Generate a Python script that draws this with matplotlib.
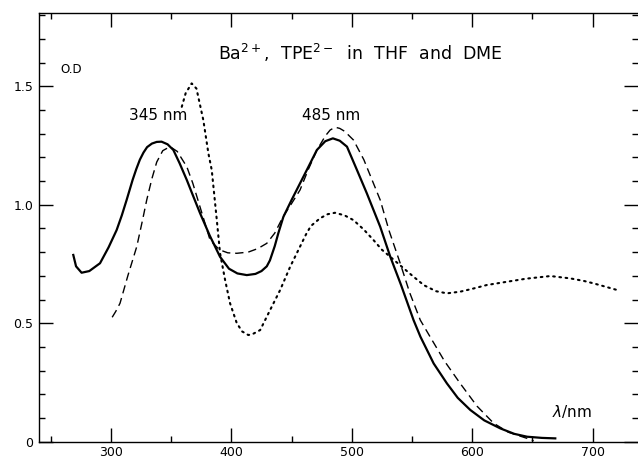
import matplotlib
matplotlib.use('Agg')
import matplotlib.pyplot as plt
import matplotlib.ticker as mticker
import numpy as np

plt.rcParams.update({
    'font.family': 'DejaVu Sans',
    'font.size': 9,
})

# ── curves (wavelength nm, O.D) ──
solid_wl = [268.7, 271, 275.6, 282, 290.9, 298, 304.7, 309, 313, 318, 321, 324, 327,
            330, 334, 338, 342, 347, 351.8, 357, 363, 368, 374, 382, 390.6, 398, 405,
            412.8, 420, 425, 429.4, 432, 436, 439, 443.2, 450, 457, 464, 471, 478,
            484.3, 490, 496, 504, 512.5, 523.6, 532, 541, 551.3, 557, 568, 579, 588,
            598.4, 610, 623.4, 635, 645.6, 658, 669]
solid_od = [0.788, 0.74, 0.713, 0.72, 0.753, 0.82, 0.893, 0.955, 1.02, 1.105, 1.15, 1.19, 1.22,
            1.243, 1.258, 1.265, 1.266, 1.255, 1.231, 1.175, 1.104, 1.04, 0.964, 0.87, 0.78, 0.73, 0.71,
            0.703, 0.708, 0.72, 0.74, 0.765, 0.825, 0.88, 0.949, 1.02, 1.09, 1.16, 1.231, 1.268,
            1.28, 1.27, 1.245, 1.15, 1.048, 0.907, 0.78, 0.66, 0.513, 0.443, 0.33, 0.246, 0.185,
            0.134, 0.09, 0.056, 0.033, 0.021, 0.016, 0.014]

dash_wl = [301, 304, 307.5, 314, 321.4, 326, 329.7, 334, 338, 343, 349, 355, 363, 368,
           374, 382.3, 390, 397, 404.5, 414, 422, 429.4, 436, 443, 450, 457, 464,
           471, 478, 482, 486.2, 490, 494, 501.4, 510, 518, 523.6, 531, 540.2, 548, 556.9,
           565, 577, 590, 604, 617.8, 630, 645.6, 651]
dash_od = [0.525, 0.55, 0.584, 0.70, 0.823, 0.93, 1.02, 1.11, 1.18, 1.228, 1.245, 1.225, 1.16, 1.09,
           0.99, 0.851, 0.81, 0.797, 0.795, 0.80, 0.815, 0.837, 0.88, 0.95, 1.005, 1.062, 1.15,
           1.23, 1.29, 1.315, 1.327, 1.322, 1.31, 1.273, 1.19, 1.09, 1.02, 0.89, 0.753, 0.63, 0.513,
           0.443, 0.34, 0.246, 0.15, 0.078, 0.04, 0.014, 0.004]

dot_wl = [358.8, 362, 367, 371, 376.7, 380.9, 383.7, 387.9, 390.6, 394.8, 398.9, 404.5,
          409, 414.1, 418, 423.9, 432.2, 440.5, 448.8, 457, 462, 466, 473.7, 480, 486,
          494, 501.4, 510, 518, 525, 532, 540, 551.3, 560, 570, 579, 590, 600, 612,
          629, 645, 665, 681.6, 693, 700.9, 710, 720.4]
dot_od = [1.413, 1.47, 1.512, 1.49, 1.357, 1.217, 1.146, 0.935, 0.795, 0.682, 0.584, 0.50,
          0.465, 0.45, 0.455, 0.471, 0.556, 0.64, 0.738, 0.823, 0.875, 0.91, 0.943, 0.96, 0.966,
          0.955, 0.935, 0.895, 0.851, 0.81, 0.78, 0.745, 0.696, 0.66, 0.635, 0.626, 0.633, 0.645, 0.661,
          0.675, 0.688, 0.699, 0.689, 0.678, 0.668, 0.655, 0.640]

x_major = [300, 400, 500, 600, 700]
y_major = [0, 0.5, 1.0, 1.5]
y_labels = ['0', '0.5', '1.0', '1.5']

fig = plt.figure(figsize=(6.38, 4.59), dpi=100)
ax = fig.add_axes([0.0607, 0.0377, 0.9393, 0.934])

ax.plot(solid_wl, solid_od, color='black', lw=1.6, solid_joinstyle='round')
ax.plot(dash_wl, dash_od, color='black', lw=1.0, ls=(0, (6, 3.5)))
ax.plot(dot_wl, dot_od, color='black', lw=1.5, ls=(0, (0.8, 2.2)), dash_capstyle='round')

ax.set_xlim(240, 737.7)
ax.set_ylim(0, 1.809)

ax.set_xticks(x_major)
ax.xaxis.set_minor_locator(mticker.MultipleLocator(50))
ax.set_yticks(y_major)
ax.set_yticklabels(y_labels)
ax.yaxis.set_minor_locator(mticker.MultipleLocator(0.1))

ax.tick_params(which='both', direction='in', top=True, right=True, width=1.0,
               labelsize=9)
ax.tick_params(which='major', length=10)
ax.tick_params(which='minor', length=4.5)
ax.tick_params(axis='x', pad=3)
ax.tick_params(axis='y', pad=4)

for s in ('left', 'top', 'bottom'):
    ax.spines[s].set_linewidth(1.0)
ax.spines['right'].set_visible(False)

ax.text(257.6, 1.556, 'O.D', fontsize=8.5)
ax.text(389, 1.61, 'Ba$^{2+}$,  TPE$^{2-}$  in  THF  and  DME', fontsize=12.5)
ax.text(315, 1.357, '345 nm', fontsize=11)
ax.text(458.5, 1.357, '485 nm', fontsize=11)
ax.text(666.3, 0.105, r'$\lambda$/nm', fontsize=11)

fig.savefig('out.png', dpi=100)
